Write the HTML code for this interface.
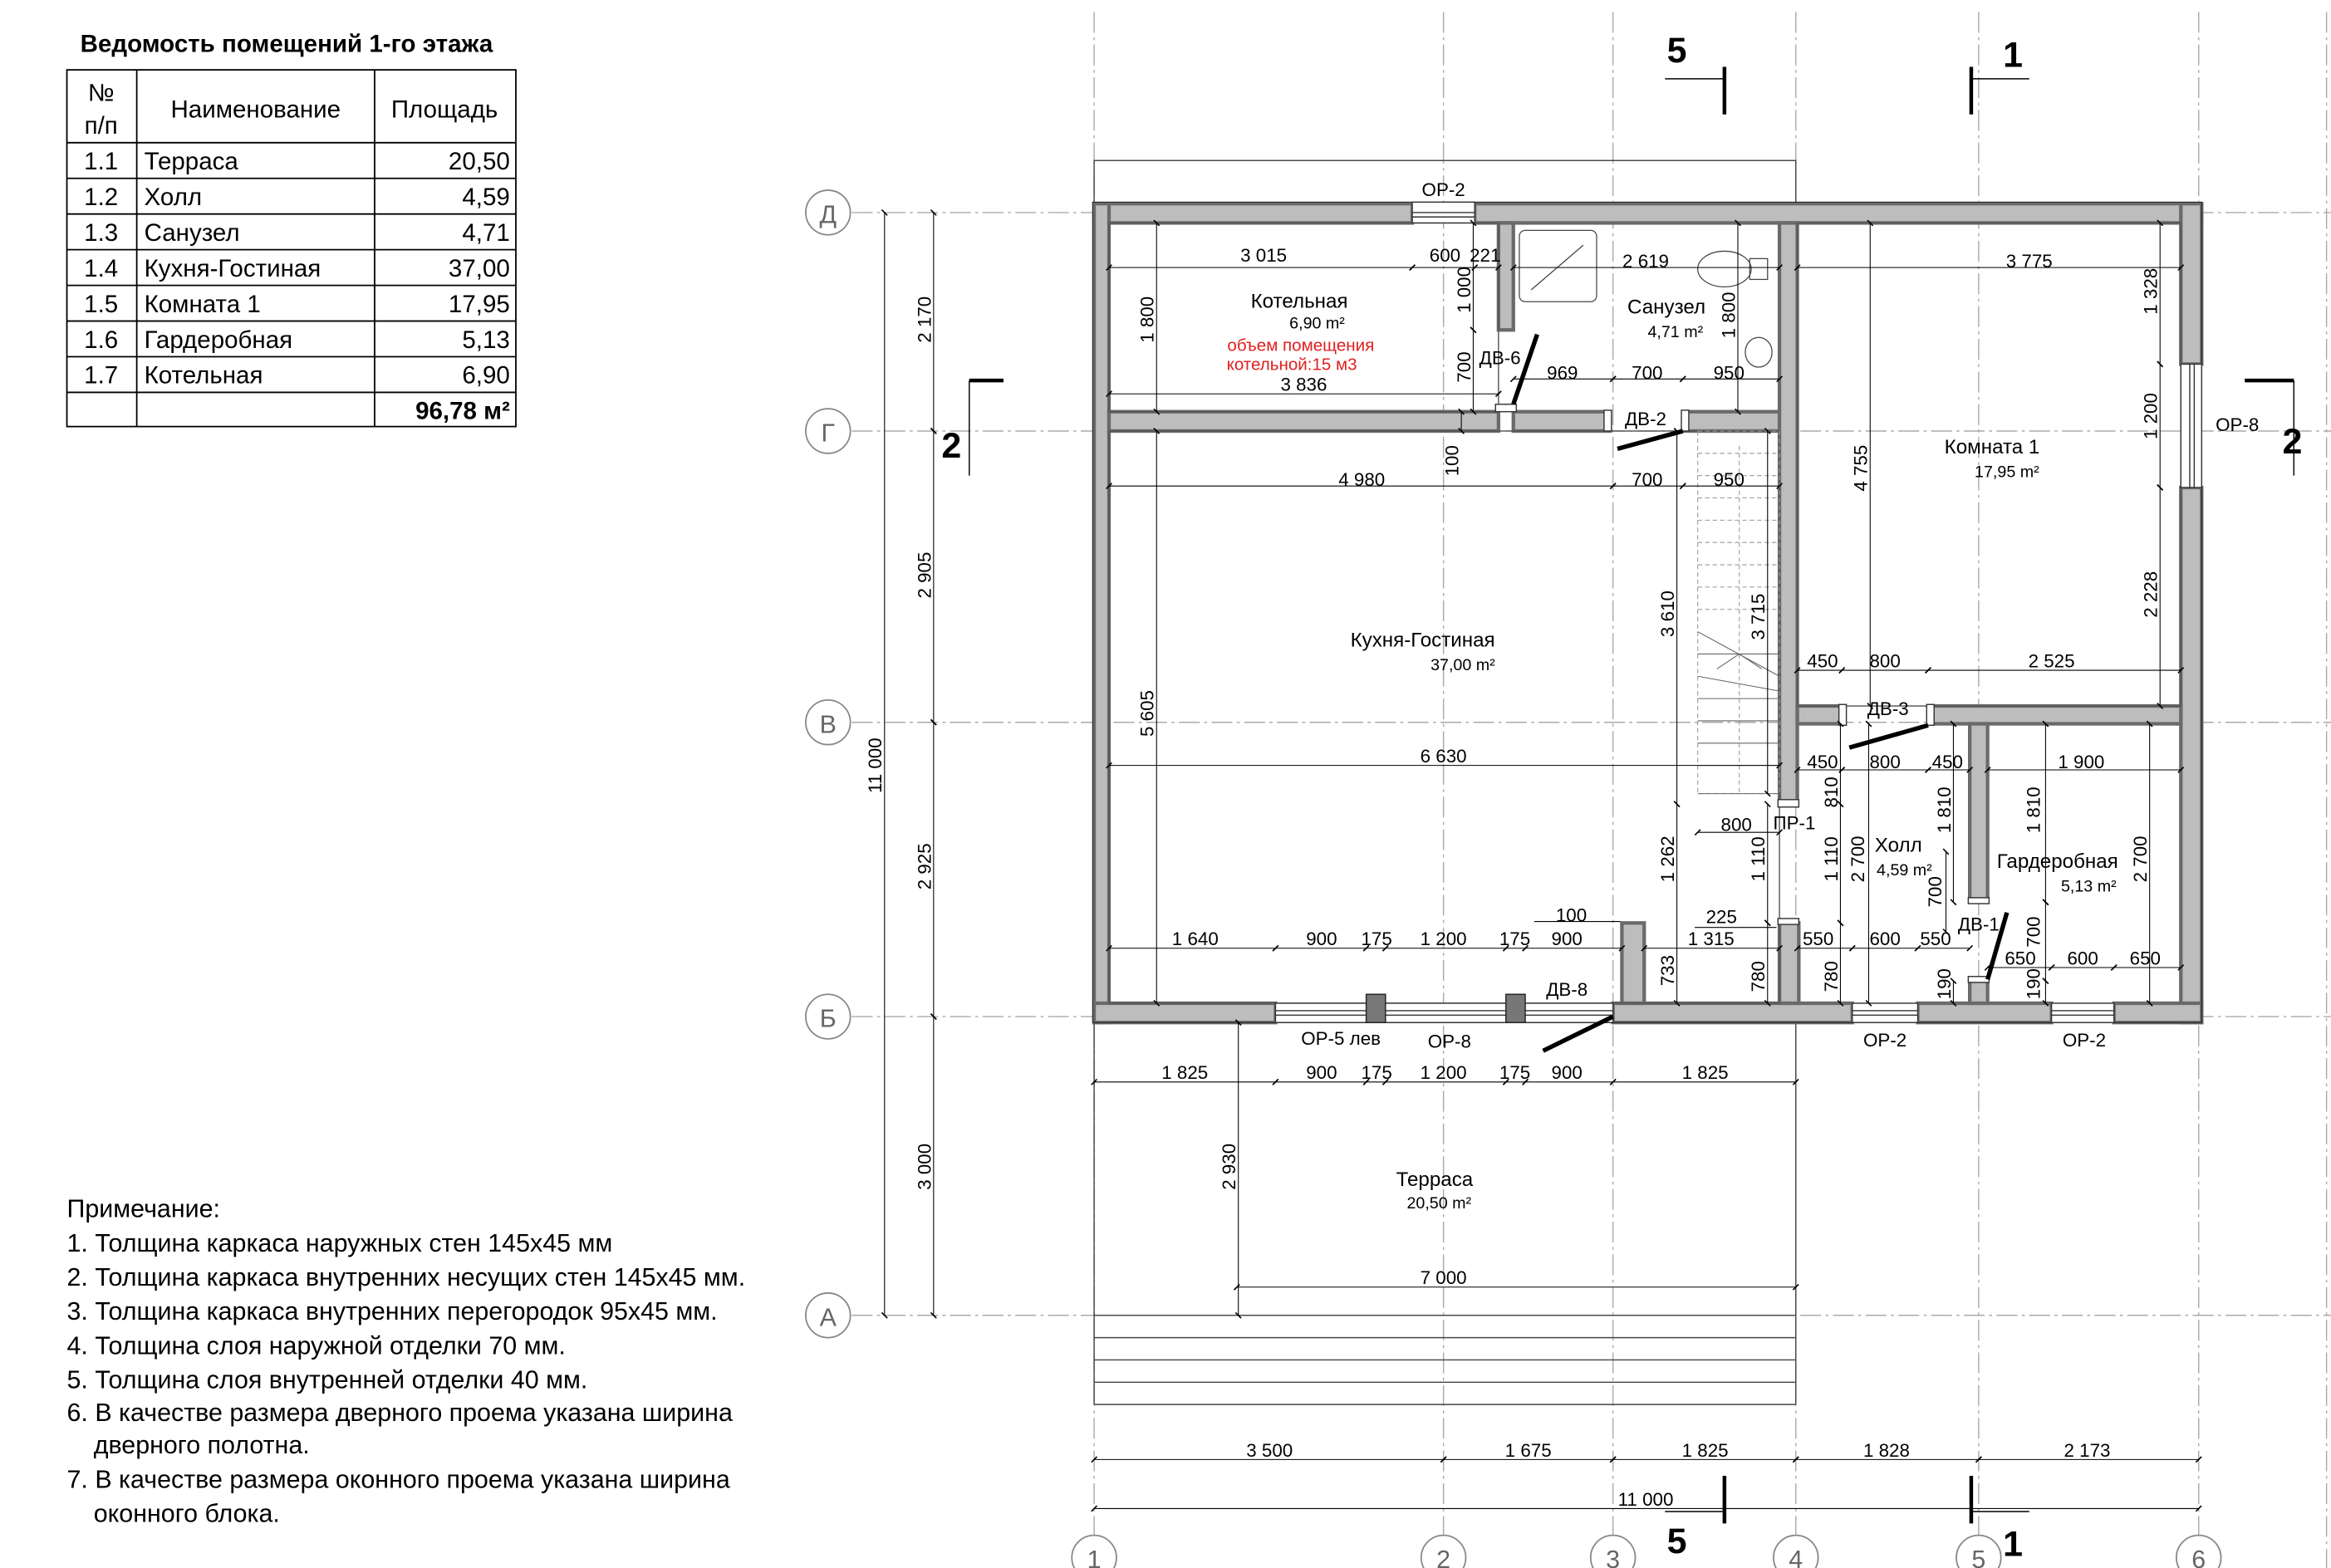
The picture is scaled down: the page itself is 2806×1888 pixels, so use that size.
<!DOCTYPE html>
<html><head><meta charset="utf-8"><style>
html,body{margin:0;padding:0;background:#fff}
svg{display:block}
text{font-family:"Liberation Sans","DejaVu Sans",sans-serif}
</style></head><body>
<svg width="2806" height="1888" viewBox="0 0 1568 1055" preserveAspectRatio="none" xmlns="http://www.w3.org/2000/svg">
<defs>
<marker id="t" viewBox="-4 -4 8 8" markerWidth="6" markerHeight="6" orient="auto" markerUnits="userSpaceOnUse"><path d="M-2.5,2.5 L2.5,-2.5" stroke="#000" stroke-width="1.2"/></marker>
</defs>
<rect width="1568" height="1055" fill="#fff"/>

<!-- TABLE -->
<text x="54" y="35" font-size="16.5" font-weight="bold">Ведомость помещений 1-го этажа</text>
<g stroke="#000" stroke-width="1" fill="none">
<rect x="45" y="47" width="302" height="240"/>
<line x1="92" y1="47" x2="92" y2="287"/><line x1="252" y1="47" x2="252" y2="287"/>
<line x1="45" y1="96" x2="347" y2="96"/><line x1="45" y1="120" x2="347" y2="120"/><line x1="45" y1="144" x2="347" y2="144"/><line x1="45" y1="168" x2="347" y2="168"/><line x1="45" y1="192" x2="347" y2="192"/><line x1="45" y1="216" x2="347" y2="216"/><line x1="45" y1="240" x2="347" y2="240"/><line x1="45" y1="264" x2="347" y2="264"/>
</g>
<g font-size="16.5">
<text x="68" y="68" text-anchor="middle">№</text><text x="68" y="90" text-anchor="middle">п/п</text>
<text x="172" y="79" text-anchor="middle">Наименование</text><text x="299" y="79" text-anchor="middle">Площадь</text>
<text x="68" y="114" text-anchor="middle">1.1</text><text x="97" y="114">Терраса</text><text x="343" y="114" text-anchor="end">20,50</text>
<text x="68" y="138" text-anchor="middle">1.2</text><text x="97" y="138">Холл</text><text x="343" y="138" text-anchor="end">4,59</text>
<text x="68" y="162" text-anchor="middle">1.3</text><text x="97" y="162">Санузел</text><text x="343" y="162" text-anchor="end">4,71</text>
<text x="68" y="186" text-anchor="middle">1.4</text><text x="97" y="186">Кухня-Гостиная</text><text x="343" y="186" text-anchor="end">37,00</text>
<text x="68" y="210" text-anchor="middle">1.5</text><text x="97" y="210">Комната 1</text><text x="343" y="210" text-anchor="end">17,95</text>
<text x="68" y="234" text-anchor="middle">1.6</text><text x="97" y="234">Гардеробная</text><text x="343" y="234" text-anchor="end">5,13</text>
<text x="68" y="258" text-anchor="middle">1.7</text><text x="97" y="258">Котельная</text><text x="343" y="258" text-anchor="end">6,90</text>
<text x="343" y="282" text-anchor="end" font-weight="bold">96,78 м²</text>
</g>

<!-- NOTES -->
<g font-size="17">
<text x="45" y="819">Примечание:</text>
<text x="45" y="842">1. Толщина каркаса наружных стен 145х45 мм</text>
<text x="45" y="865">2. Толщина каркаса внутренних несущих стен 145х45 мм.</text>
<text x="45" y="888">3. Толщина каркаса внутренних перегородок 95х45 мм.</text>
<text x="45" y="911">4. Толщина слоя наружной отделки 70 мм.</text>
<text x="45" y="934">5. Толщина слоя внутренней отделки 40 мм.</text>
<text x="45" y="956">6. В качестве размера дверного проема указана ширина</text>
<text x="63" y="978">дверного полотна.</text>
<text x="45" y="1001">7. В качестве размера оконного проема указана ширина</text>
<text x="63" y="1024">оконного блока.</text>
</g>

<!-- GRID LINES -->
<g stroke="#aaa" stroke-width="0.8" stroke-dasharray="14 3 2 3" fill="none">
<line x1="736" y1="8" x2="736" y2="1033"/><line x1="971" y1="8" x2="971" y2="1033"/><line x1="1085" y1="8" x2="1085" y2="1033"/><line x1="1208" y1="8" x2="1208" y2="1033"/><line x1="1331" y1="8" x2="1331" y2="1033"/><line x1="1479" y1="8" x2="1479" y2="1033"/><line x1="1565" y1="8" x2="1565" y2="1055"/>
<line x1="573" y1="143" x2="1568" y2="143"/><line x1="573" y1="290" x2="1568" y2="290"/><line x1="573" y1="486" x2="1568" y2="486"/><line x1="573" y1="684" x2="1568" y2="684"/><line x1="573" y1="885" x2="1568" y2="885"/>
</g>
<g stroke="#888" stroke-width="1" fill="#fff">
<circle cx="557" cy="143" r="15"/><circle cx="557" cy="290" r="15"/><circle cx="557" cy="486" r="15"/><circle cx="557" cy="684" r="15"/><circle cx="557" cy="885" r="15"/>
<circle cx="736" cy="1048" r="15"/><circle cx="971" cy="1048" r="15"/><circle cx="1085" cy="1048" r="15"/><circle cx="1208" cy="1048" r="15"/><circle cx="1331" cy="1048" r="15"/><circle cx="1479" cy="1048" r="15"/>
</g>
<g font-size="17" fill="#666" text-anchor="middle">
<text x="557" y="150">Д</text><text x="557" y="297">Г</text><text x="557" y="493">В</text><text x="557" y="691">Б</text><text x="557" y="892">А</text>
<text x="736" y="1055">1</text><text x="971" y="1055">2</text><text x="1085" y="1055">3</text><text x="1208" y="1055">4</text><text x="1331" y="1055">5</text><text x="1479" y="1055">6</text>
</g>

<!-- TERRACE -->
<g stroke="#444" stroke-width="0.8" fill="none">
<rect x="736" y="108" width="472" height="30"/>
<rect x="736" y="688" width="472" height="197"/>
<line x1="736" y1="900" x2="1208" y2="900"/><line x1="736" y1="915" x2="1208" y2="915"/><line x1="736" y1="930" x2="1208" y2="930"/><line x1="736" y1="945" x2="1208" y2="945"/>
<line x1="736" y1="885" x2="736" y2="945"/><line x1="1208" y1="885" x2="1208" y2="945"/>
</g>

<!-- WALLS -->
<g fill="#bdbdbd" stroke="#6a6a6a" stroke-width="2.4">
<rect x="736" y="137" width="214" height="13"/><rect x="992" y="137" width="489" height="13"/>
<rect x="736" y="137" width="10" height="551"/>
<rect x="1467" y="137" width="14" height="108"/><rect x="1467" y="328" width="14" height="360"/>
<rect x="736" y="675" width="122" height="13"/><rect x="1085" y="675" width="161" height="13"/><rect x="1290" y="675" width="90" height="13"/><rect x="1422" y="675" width="59" height="13"/>
<rect x="746" y="277" width="262" height="13"/><rect x="1018" y="277" width="65" height="13"/><rect x="1132" y="277" width="66" height="13"/>
<rect x="1008" y="150" width="10" height="72"/>
<rect x="1197" y="150" width="12" height="391"/>
<rect x="1209" y="475" width="30" height="12"/><rect x="1297" y="475" width="170" height="12"/>
<rect x="1325" y="487" width="12" height="120"/><rect x="1325" y="660" width="12" height="15"/>
<rect x="1091" y="621" width="15" height="54"/><rect x="1197" y="621" width="13" height="54"/>
</g>
<g fill="none" stroke="#222" stroke-width="0.6">
<rect x="735" y="136" width="746" height="552"/>
</g>
<g stroke="#555" stroke-width="0.8" fill="none">
<rect x="746" y="150" width="262" height="127"/>
<rect x="746" y="290" width="451" height="385"/>
<rect x="1209" y="150" width="258" height="325"/>
</g>
<!-- windows -->
<g fill="#fff" stroke="#333" stroke-width="0.8">
<rect x="950" y="136" width="42" height="14"/><line x1="950" y1="143" x2="992" y2="143"/><line x1="950" y1="146" x2="992" y2="146"/>
<rect x="1467" y="245" width="14" height="83"/><line x1="1473" y1="245" x2="1473" y2="328"/><line x1="1476" y1="245" x2="1476" y2="328"/>
<rect x="858" y="675" width="227" height="13"/><line x1="858" y1="680" x2="1085" y2="680"/><line x1="858" y1="683" x2="1085" y2="683"/>
<rect x="1246" y="675" width="44" height="13"/><line x1="1246" y1="680" x2="1290" y2="680"/><line x1="1246" y1="683" x2="1290" y2="683"/>
<rect x="1380" y="675" width="42" height="13"/><line x1="1380" y1="680" x2="1422" y2="680"/><line x1="1380" y1="683" x2="1422" y2="683"/>
</g>
<g fill="#777" stroke="#222" stroke-width="0.8">
<rect x="919" y="669" width="13" height="19"/><rect x="1013" y="669" width="13" height="19"/>
</g>
<g fill="#fff" stroke="#333" stroke-width="0.8">
<rect x="1006" y="272" width="14" height="5"/><rect x="1079" y="276" width="5" height="14"/><rect x="1131" y="276" width="5" height="14"/>
<rect x="1237" y="474" width="5" height="14"/><rect x="1296" y="474" width="5" height="14"/>
<rect x="1196" y="538" width="14" height="5"/><rect x="1196" y="618" width="14" height="4"/>
<rect x="1324" y="604" width="14" height="4"/><rect x="1324" y="657" width="14" height="4"/>
</g>
<g stroke="#000" stroke-width="3" stroke-linecap="butt">
<line x1="1018" y1="272" x2="1034" y2="225"/>
<line x1="1132" y1="290" x2="1088" y2="302"/>
<line x1="1297" y1="488" x2="1244" y2="503"/>
<line x1="1337" y1="659" x2="1350" y2="614"/>
<line x1="1085" y1="684" x2="1038" y2="707"/>
</g>

<!-- STAIRS -->
<g stroke="#999" stroke-width="0.6" fill="none" stroke-dasharray="3 2">
<rect x="1142" y="290" width="55" height="244"/>
<line x1="1142" y1="305" x2="1197" y2="305"/><line x1="1142" y1="320" x2="1197" y2="320"/><line x1="1142" y1="335" x2="1197" y2="335"/><line x1="1142" y1="350" x2="1197" y2="350"/><line x1="1142" y1="365" x2="1197" y2="365"/><line x1="1142" y1="380" x2="1197" y2="380"/><line x1="1142" y1="395" x2="1197" y2="395"/><line x1="1142" y1="410" x2="1197" y2="410"/>
<line x1="1170" y1="300" x2="1170" y2="535"/>
</g>
<g stroke="#666" stroke-width="0.6" fill="none">
<line x1="1142" y1="425" x2="1197" y2="455"/><line x1="1142" y1="440" x2="1197" y2="440"/><line x1="1142" y1="455" x2="1197" y2="465"/><line x1="1142" y1="470" x2="1197" y2="470"/><line x1="1142" y1="485" x2="1197" y2="485"/><line x1="1142" y1="500" x2="1197" y2="500"/><line x1="1142" y1="515" x2="1197" y2="515"/><line x1="1142" y1="534" x2="1197" y2="534"/>
<line x1="1155" y1="450" x2="1170" y2="440"/><line x1="1185" y1="450" x2="1170" y2="440"/>
</g>
<g stroke="#444" stroke-width="0.7" fill="none">
<rect x="1022" y="155" width="52" height="48" rx="4"/><line x1="1030" y1="195" x2="1065" y2="165"/>
<ellipse cx="1160" cy="181" rx="18" ry="12"/><rect x="1177" y="174" width="12" height="14"/>
<ellipse cx="1183" cy="237" rx="9" ry="10"/>
</g>

<!-- DIMENSION LINES -->
<g stroke="#000" stroke-width="0.6" fill="none" marker-start="url(#t)" marker-end="url(#t)">
<line x1="746" y1="180" x2="950" y2="180"/><line x1="950" y1="180" x2="992" y2="180"/><line x1="992" y1="180" x2="1008" y2="180"/>
<line x1="1018" y1="180" x2="1197" y2="180"/><line x1="1209" y1="180" x2="1467" y2="180"/>
<line x1="746" y1="265" x2="1008" y2="265"/>
<line x1="1018" y1="255" x2="1085" y2="255"/><line x1="1085" y1="255" x2="1132" y2="255"/><line x1="1132" y1="255" x2="1197" y2="255"/>
<line x1="746" y1="327" x2="1085" y2="327"/><line x1="1085" y1="327" x2="1132" y2="327"/><line x1="1132" y1="327" x2="1197" y2="327"/>
<line x1="1209" y1="451" x2="1239" y2="451"/><line x1="1239" y1="451" x2="1297" y2="451"/><line x1="1297" y1="451" x2="1467" y2="451"/>
<line x1="746" y1="515" x2="1197" y2="515"/>
<line x1="1209" y1="518" x2="1239" y2="518"/><line x1="1239" y1="518" x2="1297" y2="518"/><line x1="1297" y1="518" x2="1325" y2="518"/><line x1="1337" y1="518" x2="1467" y2="518"/>
<line x1="1142" y1="560" x2="1197" y2="560"/>
<line x1="746" y1="638" x2="858" y2="638"/><line x1="858" y1="638" x2="919" y2="638"/><line x1="919" y1="638" x2="932" y2="638"/><line x1="932" y1="638" x2="1013" y2="638"/><line x1="1013" y1="638" x2="1026" y2="638"/><line x1="1026" y1="638" x2="1091" y2="638"/>
<line x1="1106" y1="638" x2="1197" y2="638"/><line x1="1209" y1="638" x2="1246" y2="638"/><line x1="1246" y1="638" x2="1290" y2="638"/><line x1="1290" y1="638" x2="1325" y2="638"/>
<line x1="1337" y1="651" x2="1380" y2="651"/><line x1="1380" y1="651" x2="1422" y2="651"/><line x1="1422" y1="651" x2="1467" y2="651"/>
<line x1="736" y1="728" x2="858" y2="728"/><line x1="858" y1="728" x2="919" y2="728"/><line x1="919" y1="728" x2="932" y2="728"/><line x1="932" y1="728" x2="1013" y2="728"/><line x1="1013" y1="728" x2="1026" y2="728"/><line x1="1026" y1="728" x2="1085" y2="728"/><line x1="1085" y1="728" x2="1208" y2="728"/>
<line x1="832" y1="866" x2="1208" y2="866"/>
<line x1="736" y1="982" x2="971" y2="982"/><line x1="971" y1="982" x2="1085" y2="982"/><line x1="1085" y1="982" x2="1208" y2="982"/><line x1="1208" y1="982" x2="1331" y2="982"/><line x1="1331" y1="982" x2="1479" y2="982"/>
<line x1="736" y1="1015" x2="1479" y2="1015"/>
<line x1="778" y1="150" x2="778" y2="277"/><line x1="778" y1="290" x2="778" y2="675"/>
<line x1="991" y1="150" x2="991" y2="222"/><line x1="991" y1="222" x2="991" y2="277"/>
<line x1="983" y1="277" x2="983" y2="290"/>
<line x1="1169" y1="150" x2="1169" y2="277"/>
<line x1="1453" y1="150" x2="1453" y2="245"/><line x1="1453" y1="245" x2="1453" y2="328"/><line x1="1453" y1="328" x2="1453" y2="475"/>
<line x1="1258" y1="150" x2="1258" y2="475"/>
<line x1="1128" y1="290" x2="1128" y2="541"/><line x1="1128" y1="541" x2="1128" y2="675"/>
<line x1="1189" y1="290" x2="1189" y2="534"/><line x1="1189" y1="541" x2="1189" y2="621"/><line x1="1189" y1="621" x2="1189" y2="675"/>
<line x1="1238" y1="487" x2="1238" y2="541"/><line x1="1238" y1="541" x2="1238" y2="621"/><line x1="1238" y1="621" x2="1238" y2="675"/>
<line x1="1257" y1="487" x2="1257" y2="675"/>
<line x1="1314" y1="487" x2="1314" y2="607"/><line x1="1309" y1="573" x2="1309" y2="627"/><line x1="1314" y1="660" x2="1314" y2="675"/>
<line x1="1376" y1="487" x2="1376" y2="607"/><line x1="1376" y1="607" x2="1376" y2="660"/><line x1="1376" y1="660" x2="1376" y2="675"/>
<line x1="1446" y1="487" x2="1446" y2="675"/>
<line x1="628" y1="143" x2="628" y2="290"/><line x1="628" y1="290" x2="628" y2="486"/><line x1="628" y1="486" x2="628" y2="684"/><line x1="628" y1="684" x2="628" y2="885"/>
<line x1="595" y1="143" x2="595" y2="885"/>
<line x1="833" y1="688" x2="833" y2="885"/>
</g>
<g stroke="#000" stroke-width="0.6">
<line x1="1032" y1="620" x2="1090" y2="620"/><line x1="1140" y1="624" x2="1195" y2="624"/>
</g>

<!-- DIM TEXT -->
<g font-size="12.5" text-anchor="middle">
<text x="850" y="176">3 015</text><text x="972" y="176">600</text><text x="999" y="176">221</text>
<text x="1107" y="180">2 619</text><text x="1365" y="180">3 775</text>
<text x="877" y="263">3 836</text>
<text x="1051" y="255">969</text><text x="1108" y="255">700</text><text x="1163" y="255">950</text>
<text x="916" y="327">4 980</text><text x="1108" y="327">700</text><text x="1163" y="327">950</text>
<text x="1226" y="449">450</text><text x="1268" y="449">800</text><text x="1380" y="449">2 525</text>
<text x="971" y="513">6 630</text>
<text x="1226" y="517">450</text><text x="1268" y="517">800</text><text x="1310" y="517">450</text><text x="1400" y="517">1 900</text>
<text x="1168" y="559">800</text><text x="1207" y="558">ПР-1</text>
<text x="1057" y="620">100</text><text x="1158" y="621">225</text>
<text x="804" y="636">1 640</text><text x="889" y="636">900</text><text x="926" y="636">175</text><text x="971" y="636">1 200</text><text x="1019" y="636">175</text><text x="1054" y="636">900</text>
<text x="1151" y="636">1 315</text><text x="1223" y="636">550</text><text x="1268" y="636">600</text><text x="1302" y="636">550</text>
<text x="1359" y="649">650</text><text x="1401" y="649">600</text><text x="1443" y="649">650</text>
<text x="797" y="726">1 825</text><text x="889" y="726">900</text><text x="926" y="726">175</text><text x="971" y="726">1 200</text><text x="1019" y="726">175</text><text x="1054" y="726">900</text><text x="1147" y="726">1 825</text>
<text x="971" y="864">7 000</text>
<text x="854" y="980">3 500</text><text x="1028" y="980">1 675</text><text x="1147" y="980">1 825</text><text x="1269" y="980">1 828</text><text x="1404" y="980">2 173</text>
<text x="1107" y="1013">11 000</text>
</g>
<g font-size="12.5" text-anchor="middle">
<text transform="translate(776,215) rotate(-90)">1 800</text>
<text transform="translate(989,195) rotate(-90)">1 000</text>
<text transform="translate(989,247) rotate(-90)">700</text>
<text transform="translate(981,310) rotate(-90)">100</text>
<text transform="translate(1167,212) rotate(-90)">1 800</text>
<text transform="translate(1451,196) rotate(-90)">1 328</text>
<text transform="translate(1451,280) rotate(-90)">1 200</text>
<text transform="translate(1451,400) rotate(-90)">2 228</text>
<text transform="translate(1256,315) rotate(-90)">4 755</text>
<text transform="translate(1126,413) rotate(-90)">3 610</text>
<text transform="translate(1187,415) rotate(-90)">3 715</text>
<text transform="translate(776,480) rotate(-90)">5 605</text>
<text transform="translate(626,215) rotate(-90)">2 170</text>
<text transform="translate(626,387) rotate(-90)">2 905</text>
<text transform="translate(626,583) rotate(-90)">2 925</text>
<text transform="translate(626,785) rotate(-90)">3 000</text>
<text transform="translate(593,515) rotate(-90)">11 000</text>
<text transform="translate(831,785) rotate(-90)">2 930</text>
<text transform="translate(1126,578) rotate(-90)">1 262</text>
<text transform="translate(1187,578) rotate(-90)">1 110</text>
<text transform="translate(1236,578) rotate(-90)">1 110</text>
<text transform="translate(1254,578) rotate(-90)">2 700</text>
<text transform="translate(1236,533) rotate(-90)">810</text>
<text transform="translate(1312,545) rotate(-90)">1 810</text>
<text transform="translate(1306,600) rotate(-90)">700</text>
<text transform="translate(1312,662) rotate(-90)">190</text>
<text transform="translate(1372,545) rotate(-90)">1 810</text>
<text transform="translate(1444,578) rotate(-90)">2 700</text>
<text transform="translate(1372,627) rotate(-90)">700</text>
<text transform="translate(1372,662) rotate(-90)">190</text>
<text transform="translate(1126,653) rotate(-90)">733</text>
<text transform="translate(1187,657) rotate(-90)">780</text>
<text transform="translate(1236,657) rotate(-90)">780</text>
</g>

<!-- ROOM LABELS -->
<g text-anchor="middle">
<text x="874" y="207" font-size="13.5">Котельная</text><text x="886" y="221" font-size="11">6,90 m²</text>
<text x="875" y="236" font-size="11.5" fill="#e02020">объем помещения</text><text x="869" y="249" font-size="11.5" fill="#e02020">котельной:15 м3</text>
<text x="1121" y="211" font-size="13.5">Санузел</text><text x="1127" y="227" font-size="11">4,71 m²</text>
<text x="1340" y="305" font-size="13.5">Комната 1</text><text x="1350" y="321" font-size="11">17,95 m²</text>
<text x="957" y="435" font-size="13.5">Кухня-Гостиная</text><text x="984" y="451" font-size="11">37,00 m²</text>
<text x="1277" y="573" font-size="13.5">Холл</text><text x="1281" y="589" font-size="11">4,59 m²</text>
<text x="1384" y="584" font-size="13.5">Гардеробная</text><text x="1405" y="600" font-size="11">5,13 m²</text>
<text x="965" y="798" font-size="13.5">Терраса</text><text x="968" y="813" font-size="11">20,50 m²</text>
</g>
<g font-size="12.5" text-anchor="middle">
<text x="971" y="132">ОР-2</text><text x="1009" y="245">ДВ-6</text><text x="1107" y="286">ДВ-2</text>
<text x="1270" y="481">ДВ-3</text><text x="1331" y="626">ДВ-1</text><text x="1054" y="670">ДВ-8</text>
<text x="902" y="703">ОР-5 лев</text><text x="975" y="705">ОР-8</text><text x="1268" y="704">ОР-2</text><text x="1402" y="704">ОР-2</text>
<text x="1505" y="290">ОР-8</text>
</g>

<!-- SECTION MARKS -->
<g stroke="#000" fill="none">
<line x1="1160" y1="45" x2="1160" y2="77" stroke-width="2.5"/><line x1="1120" y1="53" x2="1160" y2="53" stroke-width="0.8"/>
<line x1="1326" y1="45" x2="1326" y2="77" stroke-width="2.5"/><line x1="1326" y1="53" x2="1365" y2="53" stroke-width="0.8"/>
<line x1="1160" y1="993" x2="1160" y2="1025" stroke-width="2.5"/><line x1="1120" y1="1017" x2="1160" y2="1017" stroke-width="0.8"/>
<line x1="1326" y1="993" x2="1326" y2="1025" stroke-width="2.5"/><line x1="1326" y1="1017" x2="1365" y2="1017" stroke-width="0.8"/>
<line x1="652" y1="256" x2="675" y2="256" stroke-width="2.5"/><line x1="652" y1="256" x2="652" y2="320" stroke-width="0.8"/>
<line x1="1510" y1="256" x2="1543" y2="256" stroke-width="2.5"/><line x1="1543" y1="256" x2="1543" y2="320" stroke-width="0.8"/>
</g>
<g font-size="24" font-weight="bold" text-anchor="middle">
<text x="1128" y="42">5</text><text x="1354" y="45">1</text>
<text x="1128" y="1045">5</text><text x="1354" y="1047">1</text>
<text x="640" y="308">2</text><text x="1542" y="305">2</text>
</g>
</svg>
</body></html>
